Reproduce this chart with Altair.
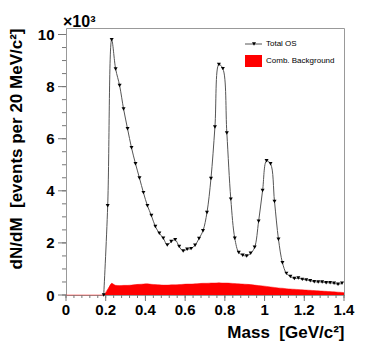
import altair as alt
import pandas as pd

# Total OS (x10^3 per 20 MeV/c^2), bin centres in GeV/c^2
mass = [0.19, 0.21, 0.23, 0.25, 0.27, 0.29, 0.31, 0.33, 0.35, 0.37, 0.39,
        0.41, 0.43, 0.45, 0.47, 0.49, 0.51, 0.53, 0.55, 0.57, 0.59,
        0.61, 0.63, 0.65, 0.67, 0.69, 0.71, 0.73, 0.75, 0.77, 0.79,
        0.81, 0.83, 0.85, 0.87, 0.89, 0.91, 0.93, 0.95, 0.97, 0.99,
        1.01, 1.03, 1.05, 1.07, 1.09, 1.11, 1.13, 1.15, 1.17, 1.19,
        1.21, 1.23, 1.25, 1.27, 1.29, 1.31, 1.33, 1.35, 1.37, 1.39]
total_os = [0.0, 3.43, 9.80, 8.68, 8.04, 7.14, 6.38, 5.65, 5.04, 4.49, 3.93,
            3.43, 3.05, 2.63, 2.37, 2.18, 1.92, 2.05, 2.12, 1.86, 1.69,
            1.76, 1.78, 1.91, 2.17, 2.47, 3.17, 4.47, 6.45, 8.85, 8.69,
            6.22, 3.68, 2.18, 1.63, 1.53, 1.50, 1.60, 1.83, 2.83, 4.01,
            5.15, 5.04, 3.59, 2.14, 1.24, 0.83, 0.71, 0.63, 0.65, 0.60,
            0.58, 0.55, 0.51, 0.50, 0.50, 0.47, 0.47, 0.45, 0.41, 0.45]

# Combinatorial background
bg_mass = [0.0, 0.19, 0.21, 0.23, 0.25, 0.27, 0.29, 0.31, 0.33, 0.35, 0.37, 0.39,
           0.41, 0.43, 0.45, 0.47, 0.49, 0.51, 0.53, 0.55, 0.57, 0.59,
           0.61, 0.63, 0.65, 0.67, 0.69, 0.71, 0.73, 0.75, 0.77, 0.79,
           0.81, 0.83, 0.85, 0.87, 0.89, 0.91, 0.93, 0.95, 0.97, 0.99,
           1.01, 1.03, 1.05, 1.07, 1.09, 1.11, 1.13, 1.15, 1.17, 1.19,
           1.21, 1.23, 1.25, 1.27, 1.29, 1.31, 1.33, 1.35, 1.37, 1.39, 1.40]
comb_bg = [0.0, 0.0, 0.22, 0.45, 0.37, 0.36, 0.37, 0.37, 0.38, 0.40, 0.41, 0.42,
           0.43, 0.41, 0.40, 0.39, 0.38, 0.38, 0.39, 0.39, 0.40, 0.41,
           0.42, 0.42, 0.43, 0.44, 0.45, 0.45, 0.46, 0.46, 0.47, 0.46,
           0.46, 0.45, 0.44, 0.43, 0.42, 0.41, 0.40, 0.38, 0.36, 0.35,
           0.33, 0.31, 0.29, 0.27, 0.26, 0.24, 0.23, 0.22, 0.21, 0.20,
           0.19, 0.18, 0.17, 0.16, 0.15, 0.14, 0.13, 0.12, 0.11, 0.10, 0.09]

x_major_ticks = [0, 0.2, 0.4, 0.6, 0.8, 1.0, 1.2, 1.4]
x_tick_labels = ["0", "0.2", "0.4", "0.6", "0.8", "1", "1.2", "1.4"]
x_minor_ticks = [round(i * 0.04, 2) for i in range(36)]
y_major_ticks = [0, 2, 4, 6, 8, 10]
y_minor_ticks = [i * 0.5 for i in range(21)]
legend_labels = ["Total OS", "Comb. Background"]

FONT = "Liberation Sans"
NB = "\u00a0"
TICK = "#777777"

total_df = pd.DataFrame({"mass": mass, "dndm": total_os})
bg_df = pd.DataFrame({"mass": bg_mass, "dndm": comb_bg})

x_axis = alt.Axis(
    values=x_major_ticks, domain=False, grid=False, ticks=False, labels=False,
    title=f"Mass{NB}{NB}[GeV/c²]", titleFont=FONT, titleFontSize=17, titleFontWeight="bold",
    titleColor="black", titleAnchor="end", titleAlign="right", titleX=278, titleY=42,
    titleBaseline="alphabetic",
)
y_axis = alt.Axis(
    values=y_major_ticks, domain=False, grid=False, ticks=False, format="d",
    labelFont=FONT, labelFontSize=15, labelFontWeight="bold", labelColor="black",
    labelPadding=12, labelFlush=False, labelOverlap=False,
    title=f"dN/dM{NB}{NB}[events per 20 MeV/c²]", titleFont=FONT, titleFontSize=17,
    titleFontWeight="bold", titleColor="black", titleAngle=-90,
    titleAlign="right", titleBaseline="alphabetic", titleX=-45, titleY=0,
)

x_scale = alt.Scale(domain=[0, 1.4], nice=False, zero=False)
y_scale = alt.Scale(domain=[0, 10.25], nice=False)

bg_line = alt.Chart(bg_df).mark_line(color="#ff0000", opacity=0.45, strokeWidth=1).encode(
    x=alt.X("mass:Q", scale=x_scale, axis=x_axis),
    y=alt.Y("dndm:Q", scale=y_scale, axis=y_axis),
)
bg_area = alt.Chart(bg_df).mark_area(color="#ff0000", interpolate="monotone").encode(
    x=alt.X("mass:Q", scale=x_scale),
    y=alt.Y("dndm:Q", scale=y_scale),
)
tot_line = alt.Chart(total_df).mark_line(color="#555555", strokeWidth=1,
                                          interpolate="catmull-rom").encode(
    x=alt.X("mass:Q", scale=x_scale),
    y=alt.Y("dndm:Q", scale=y_scale),
)
tot_pts = alt.Chart(total_df).mark_point(shape="triangle-down", filled=True,
                                          color="black", size=16, opacity=1).encode(
    x=alt.X("mass:Q", scale=x_scale),
    y=alt.Y("dndm:Q", scale=y_scale),
)

# tick marks (outside the frame)
xmin_t = alt.Chart(pd.DataFrame({"v": x_minor_ticks})).mark_rule(color=TICK, strokeWidth=1).encode(
    x=alt.X("v:Q", scale=x_scale), y=alt.value(267), y2=alt.value(270))
xmaj_t = alt.Chart(pd.DataFrame({"v": x_major_ticks})).mark_rule(color=TICK, strokeWidth=1).encode(
    x=alt.X("v:Q", scale=x_scale), y=alt.value(267), y2=alt.value(273))
ymin_t = alt.Chart(pd.DataFrame({"v": y_minor_ticks})).mark_rule(color=TICK, strokeWidth=1).encode(
    y=alt.Y("v:Q", scale=y_scale), x=alt.value(-4), x2=alt.value(0))
ymaj_t = alt.Chart(pd.DataFrame({"v": y_major_ticks})).mark_rule(color=TICK, strokeWidth=1).encode(
    y=alt.Y("v:Q", scale=y_scale), x=alt.value(-8), x2=alt.value(0))

x_labels = alt.Chart(pd.DataFrame({"v": x_major_ticks, "lab": x_tick_labels})).mark_text(
    align="center", baseline="alphabetic", font=FONT, fontSize=15, fontWeight="bold",
    color="black").encode(
    x=alt.X("v:Q", scale=x_scale), y=alt.value(287), text="lab:N")

one = pd.DataFrame({"a": [0]})
exp_text = alt.Chart(one).mark_text(align="left", baseline="alphabetic", font=FONT,
                                    fontSize=16, fontWeight="bold", color="black").encode(
    x=alt.value(-3), y=alt.value(-1), text=alt.value("×10³"))
leg_line = alt.Chart(one).mark_rule(color="#555555", strokeWidth=1).encode(
    x=alt.value(179), x2=alt.value(196), y=alt.value(16))
leg_pt = alt.Chart(one).mark_point(shape="triangle-down", filled=True, color="black",
                                   size=16, opacity=1).encode(
    x=alt.value(188), y=alt.value(16))
leg_box = alt.Chart(one).mark_rect(color="#ff0000").encode(
    x=alt.value(179), x2=alt.value(196), y=alt.value(27), y2=alt.value(39))
leg_t1 = alt.Chart(one).mark_text(align="left", baseline="middle", font=FONT,
                                  fontSize=8, color="black").encode(
    x=alt.value(200), y=alt.value(16), text=alt.value(legend_labels[0]))
leg_t2 = alt.Chart(one).mark_text(align="left", baseline="middle", font=FONT,
                                  fontSize=8, color="black").encode(
    x=alt.value(200), y=alt.value(33), text=alt.value(legend_labels[1]))

chart = alt.layer(
    bg_line, bg_area, tot_line, tot_pts,
    xmin_t, xmaj_t, ymin_t, ymaj_t, x_labels, exp_text,
    leg_line, leg_pt, leg_box, leg_t1, leg_t2,
).properties(
    width=278, height=267,
    autosize=alt.AutoSizeParams(type="none"),
    padding={"left": 58, "top": 20, "right": 12, "bottom": 48},
).configure_view(stroke="#999999", strokeWidth=1)

chart.save("out.html", embed_options={"renderer": "svg", "actions": False})
